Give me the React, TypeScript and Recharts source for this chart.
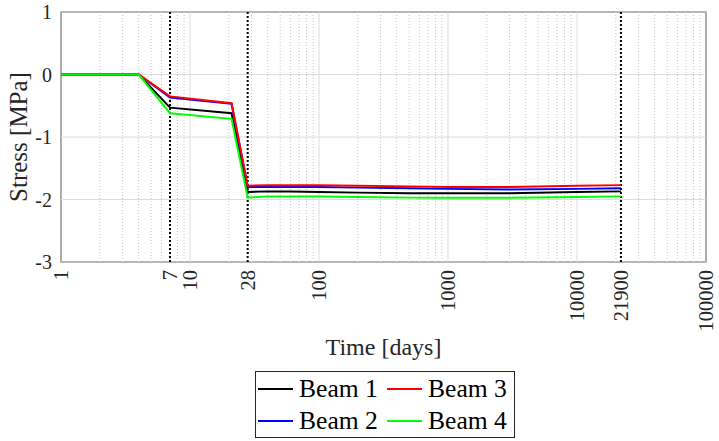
import React from "react";
import {
  LineChart,
  Line,
  XAxis,
  YAxis,
  ReferenceLine,
  ReferenceArea,
} from "recharts";

// time in days and stress per beam
const days = [1, 4, 7, 21, 28, 40, 60, 100, 200, 500, 1000, 3000, 10000, 21900];
const beam1 = [0, 0, -0.53, -0.62, -1.88, -1.87, -1.87, -1.88, -1.89, -1.9, -1.9, -1.9, -1.88, -1.87];
const beam2 = [0, 0, -0.37, -0.47, -1.8, -1.8, -1.8, -1.8, -1.81, -1.82, -1.83, -1.84, -1.83, -1.82];
const beam3 = [0, 0, -0.35, -0.46, -1.78, -1.77, -1.77, -1.77, -1.78, -1.79, -1.8, -1.8, -1.78, -1.77];
const beam4 = [0, 0, -0.62, -0.71, -1.97, -1.95, -1.95, -1.95, -1.96, -1.97, -1.97, -1.97, -1.96, -1.95];

const xTicks = [1, 7, 10, 28, 100, 1000, 10000, 21900, 100000];
const yTicks = [-3, -2, -1, 0, 1];
const markers = [7, 28, 21900];
const decades = [1, 10, 100, 1000, 10000, 100000];

const series = [
  { key: "beam1", name: "Beam 1", color: "#000000" },
  { key: "beam2", name: "Beam 2", color: "#0000ff" },
  { key: "beam3", name: "Beam 3", color: "#ff0000" },
  { key: "beam4", name: "Beam 4", color: "#00ff00" },
];

const data = days.map((d, i) => ({
  day: d,
  beam1: beam1[i],
  beam2: beam2[i],
  beam3: beam3[i],
  beam4: beam4[i],
}));

// minor grid at 2..9 of each decade
const minor: number[] = [];
decades.slice(0, -1).forEach((d) => {
  for (let k = 2; k <= 9; k++) minor.push(d * k);
});

const FONT = "'Liberation Serif', 'Times New Roman', serif";

const RotatedTick = (props: any) => {
  const { x, y, payload } = props;
  return (
    <text
      transform={`translate(${x},${y + 6}) rotate(-90)`}
      textAnchor="end"
      dy="0.35em"
      fontSize={20.5}
      fontFamily={FONT}
      fill="#262626"
    >
      {payload.value}
    </text>
  );
};

const legendCols = [
  [series[0], series[1]],
  [series[2], series[3]],
];

export default function App() {
  return (
    <div style={{ position: "absolute", left: 0, top: 0, width: 719, height: 441, background: "#fff" }}>
      <LineChart
        width={719}
        height={441}
        data={data}
        margin={{ top: 12, right: 13, left: 0, bottom: 0 }}
      >
        {minor.map((v) => (
          <ReferenceLine key={`m${v}`} x={v} stroke="#c4c4c4" strokeDasharray="1 2" strokeWidth={1} />
        ))}
        {decades.map((v) => (
          <ReferenceLine key={`d${v}`} x={v} stroke="#dcdcdc" strokeWidth={1} />
        ))}
        {yTicks.map((v) => (
          <ReferenceLine key={`y${v}`} y={v} stroke="#dcdcdc" strokeWidth={1} />
        ))}
        {markers.map((v) => (
          <ReferenceLine key={`k${v}`} x={v} stroke="#000" strokeDasharray="2 2" strokeWidth={2} />
        ))}
        <XAxis
          dataKey="day"
          type="number"
          scale="log"
          domain={[1, 100000]}
          ticks={xTicks}
          tick={<RotatedTick />}
          tickLine={false}
          axisLine={false}
          tickSize={0}
          height={179}
          interval={0}
          allowDataOverflow
          label={{
            value: "Time [days]",
            position: "insideTop",
            offset: 76,
            fontSize: 24,
            fontFamily: FONT,
            fill: "#262626",
          }}
        />
        <YAxis
          type="number"
          domain={[-3, 1]}
          ticks={yTicks}
          width={61}
          tickLine={false}
          axisLine={false}
          tickSize={0}
          tickMargin={9}
          allowDataOverflow
          tick={{ fontSize: 20, fontFamily: FONT, fill: "#262626" }}
          label={{
            value: "Stress [MPa]",
            angle: -90,
            position: "insideLeft",
            offset: 18,
            style: { textAnchor: "middle" },
            fontSize: 25,
            fontFamily: FONT,
            fill: "#262626",
          }}
        />
        {series.map((s) => (
          <Line
            key={s.key}
            dataKey={s.key}
            name={s.name}
            stroke={s.color}
            strokeWidth={2}
            dot={false}
            type="linear"
            isAnimationActive={false}
          />
        ))}
        <ReferenceArea
          x1={1}
          x2={100000}
          y1={-3}
          y2={1}
          fill="none"
          stroke="#262626"
          strokeWidth={1.2}
          ifOverflow="visible"
        />
      </LineChart>
      <div
        style={{
          position: "absolute",
          left: 255,
          top: 371,
          width: 260,
          height: 67,
          border: "1px solid #262626",
          boxSizing: "border-box",
          display: "flex",
          fontFamily: FONT,
          fontSize: 25.6,
          color: "#000",
          background: "#fff",
          paddingTop: 1,
        }}
      >
        {legendCols.map((col, ci) => (
          <div key={ci} style={{ display: "flex", flexDirection: "column", width: 130, paddingLeft: ci === 0 ? 2 : 2 }}>
            {col.map((s) => (
              <div key={s.key} style={{ display: "flex", alignItems: "center", height: 32, lineHeight: "32px" }}>
                <span style={{ display: "inline-block", width: 35, height: 2, background: s.color, marginRight: 6 }} />
                <span>{s.name}</span>
              </div>
            ))}
          </div>
        ))}
      </div>
    </div>
  );
}
